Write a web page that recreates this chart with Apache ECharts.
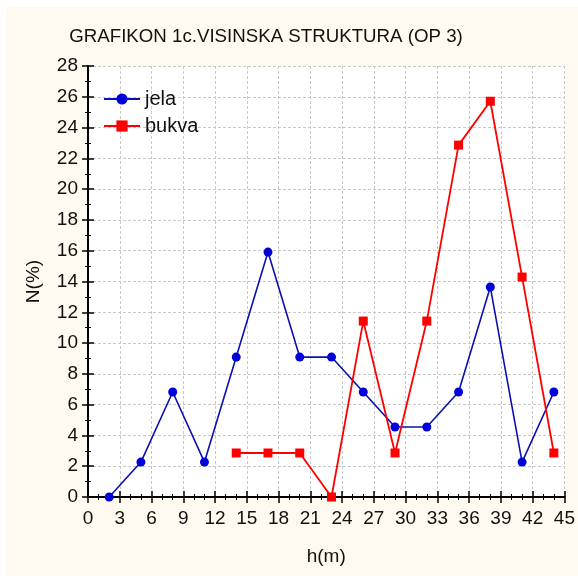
<!DOCTYPE html>
<html>
<head>
<meta charset="utf-8">
<script src="https://cdn.jsdelivr.net/npm/echarts@6/dist/echarts.min.js"></script>
<style>
  html, body { margin: 0; padding: 0; background: #fff; }
  #chart { position: absolute; left: 6px; top: 7px; width: 572px; height: 569px; background: #fffaef; }
</style>
</head>
<body>
<div id="chart"></div>
<script>
// visina (m) i udio (%) po vrstama
var jelaH = [2, 5, 8, 11, 14, 17, 20, 23, 26, 29, 32, 35, 38, 41, 44]
var jelaN = [0, 2.27, 6.82, 2.27, 9.09, 15.91, 9.09, 9.09, 6.82, 4.55, 4.55, 6.82, 13.64, 2.27, 6.82]
var bukvaH = [14, 17, 20, 23, 26, 29, 32, 35, 38, 41, 44]
var bukvaN = [2.86, 2.86, 2.86, 0, 11.43, 2.86, 11.43, 22.86, 25.71, 14.29, 2.86]

function pairs (xs, ys) {
  return xs.map(function (x, i) { return [x, ys[i]] })
}

var font = 'Liberation Sans, Arial, sans-serif'
var chart = echarts.init(document.getElementById('chart'))

var gridBox = { left: 82, top: 59, width: 477, height: 431 }

var option = {
  animation: false,
  title: {
    text: 'GRAFIKON 1c.VISINSKA STRUKTURA (OP 3)',
    left: 255, top: 15, textAlign: 'center',
    textStyle: { fontFamily: font, fontSize: 18.7, fontWeight: 'normal', color: '#111' }
  },
  legend: {
    left: 92, top: 77, orient: 'vertical', itemGap: 7,
    itemWidth: 36, itemHeight: 14,
    textStyle: { fontFamily: font, fontSize: 20, color: '#111' },
    data: ['jela', 'bukva']
  },
  grid: Object.assign({ backgroundColor: '#fff', show: true, borderWidth: 0 }, gridBox),
  xAxis: [{
    type: 'value', min: 0, max: 45, interval: 3,
    name: 'h(m)', nameLocation: 'middle', nameGap: 50,
    nameTextStyle: { fontFamily: font, fontSize: 19, color: '#111' },
    axisLine: { lineStyle: { color: '#000', width: 2 } },
    axisTick: { inside: true, length: 6, lineStyle: { color: '#000', width: 1.5 } },
    minorTick: { show: true, splitNumber: 3, length: 3, lineStyle: { color: '#000' } },
    axisLabel: { fontFamily: font, fontSize: 19, color: '#111', margin: 12 },
    splitLine: { lineStyle: { color: '#c8c8c8', type: [3, 2] } }
  }, {
    type: 'value', min: 0, max: 45, interval: 3, position: 'top',
    axisLine: { lineStyle: { color: '#000', width: 2 } },
    axisTick: { inside: true, length: 6, lineStyle: { color: '#000', width: 1.5 } },
    minorTick: { show: true, splitNumber: 3, length: 3, lineStyle: { color: '#000' } },
    axisLabel: { show: false }, splitLine: { show: false }
  }],
  yAxis: [{
    type: 'value', min: 0, max: 28, interval: 2,
    name: 'N(%)', nameLocation: 'middle', nameGap: 45, nameRotate: 90,
    nameTextStyle: { fontFamily: font, fontSize: 19, color: '#111' },
    axisLine: { show: true, lineStyle: { color: '#000', width: 2 } },
    axisTick: { show: true, inside: true, length: 6, lineStyle: { color: '#000', width: 1.5 } },
    minorTick: { show: true, splitNumber: 2, length: 3, lineStyle: { color: '#000' } },
    axisLabel: { fontFamily: font, fontSize: 19, color: '#111', margin: 10 },
    splitLine: { lineStyle: { color: '#c8c8c8', type: [3, 2] } }
  }, {
    type: 'value', min: 0, max: 28, interval: 2, position: 'right',
    axisLine: { show: true, lineStyle: { color: '#000', width: 2 } },
    axisTick: { show: true, inside: true, length: 6, lineStyle: { color: '#000', width: 1.5 } },
    minorTick: { show: true, splitNumber: 2, length: 3, lineStyle: { color: '#000' } },
    axisLabel: { show: false }, splitLine: { show: false }
  }],
  series: [{
    name: 'jela', type: 'line',
    data: pairs(jelaH, jelaN),
    symbol: 'circle', symbolSize: 9,
    lineStyle: { color: '#0a10b4', width: 1.6 },
    itemStyle: { color: '#0000d8' }
  }, {
    name: 'bukva', type: 'line',
    data: pairs(bukvaH, bukvaN),
    symbol: 'rect', symbolSize: 9,
    lineStyle: { color: '#ff0000', width: 1.8 },
    itemStyle: { color: '#ff0000' }
  }]
}
chart.setOption(option)
</script>
</body>
</html>
